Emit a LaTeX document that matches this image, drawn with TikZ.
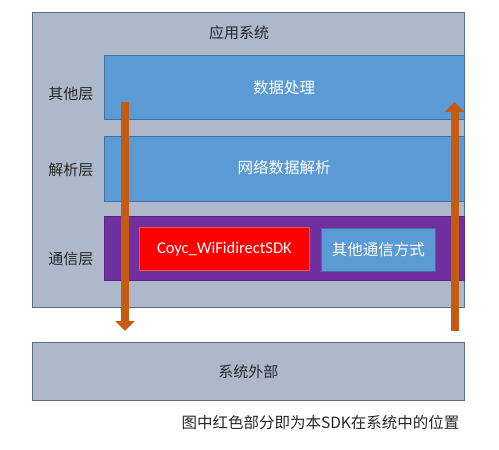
\documentclass[tikz,border=0pt]{standalone}
\usepackage{fontspec}
\setmainfont{Noto Sans CJK SC}
\newfontfamily\latinfont{Carlito}
\usetikzlibrary{positioning,arrows.meta}
\definecolor{sysgray}{HTML}{ADB9CA}
\definecolor{sysedge}{HTML}{5A6E84}
\definecolor{layerblue}{HTML}{5B9BD5}
\definecolor{layeredge}{HTML}{41719C}
\definecolor{commpurple}{HTML}{7030A0}
\definecolor{sdkred}{HTML}{FF0000}
\definecolor{flowbrown}{HTML}{C55A11}
\definecolor{textdark}{HTML}{262626}

\begin{document}
\begin{tikzpicture}[x=1pt,y=-1pt,
      box/.style={draw=sysedge,fill=sysgray,line width=0.8pt,anchor=north west,inner sep=0pt},
      layer/.style={draw=layeredge,fill=layerblue,line width=0.8pt,anchor=north west,inner sep=0pt,
                    text=white,font=\fontsize{15}{18}\selectfont},
      lbl/.style={text=textdark,font=\fontsize{15}{18}\selectfont},
      flow/.style={flowbrown,line width=8pt,-{Triangle[width=19pt,length=10pt]}}]
    \useasboundingbox (0,0) rectangle (499,450);
    % system and outside
    \node[box,minimum width=432pt,minimum height=295pt](app) at (32,12) {};
    \node[lbl] (apptext) at (239,33) {应用系统};
    \node[box,minimum width=432pt,minimum height=58pt,lbl](outside) at (32,342) {};
    \node[lbl] at (outside.center) {系统外部};
    % layers
    \node[layer,minimum width=360pt,minimum height=64pt](data) at (104,55) {};
    \node[text=white,font=\fontsize{15.5}{18}\selectfont] at (284,88) {数据处理};
    \node[layer,minimum width=360pt,minimum height=65pt](parse) at (104,136) {};
    \node[text=white,font=\fontsize{15.5}{18}\selectfont] at (284,168) {网络数据解析};
    \node[layer,draw=commpurple!80!black,fill=commpurple,minimum width=360pt,minimum height=64pt](comm) at (104,216) {};
    \node[layer,draw=sdkred!70!white,fill=sdkred,minimum width=170pt,minimum height=43pt,
          font=\latinfont\fontsize{16.5}{19}\selectfont](sdk) at (139,227) {Coyc\_WiFidirectSDK};
    \node[layer,minimum width=114pt,minimum height=43pt,font=\fontsize{15.5}{18}\selectfont](other) at (321,228) {其他通信方式};
    % layer names
    \node[lbl] (l1) at (71,94) {其他层};
    \node[lbl] (l2) at (71,170) {解析层};
    \node[lbl] (l3) at (71,259) {通信层};
    % data flow
    \coordinate (downtop) at (125,102);
    \coordinate (downtip) at (125,331);
    \coordinate (upfoot) at (454.5,331);
    \coordinate (uptip) at (454.5,102);
    \draw[flow] (downtop) -- (downtip);
    \draw[flow] (upfoot) -- (uptip);
    \node[anchor=east,text=textdark,font=\fontsize{15.5}{18}\selectfont](note) at (463,423) {图中红色部分即为本SDK在系统中的位置};
  \end{tikzpicture}
\end{document}
